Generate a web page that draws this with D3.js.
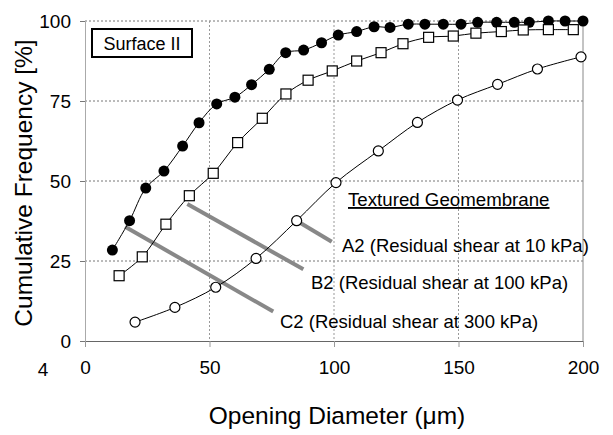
<!DOCTYPE html>
<html>
<head>
<meta charset="utf-8">
<script src="https://cdn.jsdelivr.net/npm/d3@7"></script>
<style>
  html, body { margin: 0; padding: 0; background: #fff; }
  svg { display: block; font-family: "Liberation Sans", Arial, sans-serif; }
</style>
</head>
<body>
<svg id="chart" width="613" height="435"></svg>
<script>
// Opening diameter (µm) and cumulative frequency (%) for each residual-shear test
const a2X = [11.0, 17.9, 24.4, 31.7, 39.2, 45.8, 52.9, 60.2, 66.9, 74.0, 80.6, 87.8, 95.0, 101.7, 109.1, 116.1, 122.5, 129.8, 136.5, 143.9, 151.0, 157.7, 165.3, 172.4, 178.4, 186.1, 192.8, 200];
const a2Y = [28.4, 37.6, 47.8, 53.1, 60.9, 68.2, 74.1, 76.2, 80.1, 84.9, 90.1, 90.9, 93.2, 95.6, 96.7, 98.2, 98.0, 99.0, 99.0, 99.0, 99.0, 99.6, 99.6, 99.6, 99.6, 100, 100, 100];

const b2X = [13.7, 23.0, 32.5, 41.9, 51.5, 61.3, 71.2, 80.7, 89.6, 99.3, 109.1, 118.9, 127.7, 138.0, 147.9, 157.0, 167.2, 176.0, 186.1, 196.1];
const b2Y = [20.4, 26.3, 36.5, 45.4, 52.4, 62.0, 69.6, 77.2, 81.5, 84.4, 87.5, 90.1, 92.9, 94.9, 95.3, 96.2, 96.7, 97.2, 97.3, 97.3];

const c2X = [20.1, 36.1, 52.5, 68.7, 85.0, 100.8, 117.8, 133.5, 149.6, 165.7, 181.7, 199.2];
const c2Y = [5.9, 10.5, 16.8, 25.8, 37.6, 49.5, 59.4, 68.3, 75.3, 80.2, 85.0, 88.8];

// Axis ticks
const xTicks = [0, 50, 100, 150, 200];
const yTicks = [0, 25, 50, 75, 100];

// Leader lines from each curve to its label: [x1, y1, x2, y2] in data units
const leaderC2 = [16.1, 35.7, 75.6, 9.2];
const leaderB2 = [41.1, 42.8, 87.7, 22.4];
const leaderA2 = [85.0, 37.6, 99.1, 31.0];

const labelA2 = "A2 (Residual shear at 10 kPa)";
const labelB2 = "B2 (Residual shear at 100 kPa)";
const labelC2 = "C2 (Residual shear at 300 kPa)";

const svg = d3.select("#chart");
const x = d3.scaleLinear().domain([0, 200]).range([85, 583]);
const y = d3.scaleLinear().domain([0, 100]).range([341, 21]);

// Dotted gridlines
svg.append("g").selectAll("line").data(yTicks.filter(d => d > 0)).join("line")
  .attr("x1", x(0)).attr("x2", x(200))
  .attr("y1", d => y(d)).attr("y2", d => y(d))
  .attr("stroke", "#777").attr("stroke-width", 1).attr("stroke-dasharray", "2,2");
svg.append("g").selectAll("line").data(xTicks.filter(d => d > 0 && d < 200)).join("line")
  .attr("x1", d => x(d)).attr("x2", d => x(d))
  .attr("y1", y(100)).attr("y2", y(0))
  .attr("stroke", "#999").attr("stroke-width", 1).attr("stroke-dasharray", "2,2");
// Right frame
svg.append("line")
  .attr("x1", x(200)).attr("x2", x(200)).attr("y1", y(100)).attr("y2", y(0))
  .attr("stroke", "#888").attr("stroke-width", 1);

// Axes
const xAxis = svg.append("g").attr("transform", `translate(0,${y(0)})`)
  .call(d3.axisBottom(x).tickValues(xTicks).tickSize(6).tickPadding(14).tickSizeOuter(0));
const yAxis = svg.append("g").attr("transform", `translate(${x(0)},0)`)
  .call(d3.axisLeft(y).tickValues(yTicks).tickSize(5).tickPadding(9).tickSizeOuter(0));
xAxis.select(".domain").attr("stroke", "#666");
yAxis.select(".domain").attr("stroke", "#aaa");
xAxis.selectAll(".tick line").attr("stroke", "#999");
yAxis.selectAll(".tick line").attr("stroke", "#777");
[xAxis, yAxis].forEach(g => g.selectAll("text")
  .attr("font-size", 19).attr("fill", "#000")
  .attr("font-family", "'Liberation Sans', Arial, sans-serif"));

// Stray label at the left of the tick row
svg.append("text").attr("x", 43).attr("y", 376).attr("text-anchor", "middle")
  .attr("font-size", 19).text("4");

// Axis titles
svg.append("text").attr("x", 337).attr("y", 424).attr("text-anchor", "middle")
  .attr("font-size", 24.5).text("Opening Diameter (\u03bcm)");
svg.append("text").attr("transform", "translate(32,183) rotate(-90)")
  .attr("text-anchor", "middle").attr("font-size", 24.5).text("Cumulative Frequency [%]");

// Leader lines
svg.append("g").selectAll("line").data([leaderC2, leaderB2, leaderA2]).join("line")
  .attr("x1", d => x(d[0])).attr("y1", d => y(d[1]))
  .attr("x2", d => x(d[2])).attr("y2", d => y(d[3]))
  .attr("stroke", "#888").attr("stroke-width", 4);

// Curves
const line = d3.line().x(d => x(d[0])).y(d => y(d[1])).curve(d3.curveCatmullRom.alpha(0.5));
const series = [
  { xs: a2X, ys: a2Y, marker: "dot" },
  { xs: b2X, ys: b2Y, marker: "square" },
  { xs: c2X, ys: c2Y, marker: "ring" }
];
series.forEach(s => {
  const pts = s.xs.map((v, i) => [v, s.ys[i]]);
  svg.append("path").datum(pts).attr("d", line)
    .attr("fill", "none").attr("stroke", "#000").attr("stroke-width", 1);
  const g = svg.append("g");
  if (s.marker === "dot") {
    g.selectAll("circle").data(pts).join("circle")
      .attr("cx", d => x(d[0])).attr("cy", d => y(d[1])).attr("r", 5.5).attr("fill", "#000");
  } else if (s.marker === "square") {
    g.selectAll("rect").data(pts).join("rect")
      .attr("x", d => x(d[0]) - 5).attr("y", d => y(d[1]) - 5)
      .attr("width", 10).attr("height", 10)
      .attr("fill", "#fff").attr("stroke", "#000").attr("stroke-width", 1.2);
  } else {
    g.selectAll("circle").data(pts).join("circle")
      .attr("cx", d => x(d[0])).attr("cy", d => y(d[1])).attr("r", 5)
      .attr("fill", "#fff").attr("stroke", "#000").attr("stroke-width", 1.2);
  }
});

// Annotation text
svg.append("text").attr("x", 348).attr("y", 206).attr("font-size", 18.7)
  .attr("text-decoration", "underline").text("Textured Geomembrane");
svg.append("text").attr("x", 342).attr("y", 252).attr("font-size", 18.5).text(labelA2);
svg.append("text").attr("x", 311).attr("y", 289).attr("font-size", 18.5).text(labelB2);
svg.append("text").attr("x", 280).attr("y", 328).attr("font-size", 18.5).text(labelC2);

// Surface label box
svg.append("rect").attr("x", 92).attr("y", 29).attr("width", 100).attr("height", 28)
  .attr("fill", "#fff").attr("stroke", "#000").attr("stroke-width", 2);
svg.append("text").attr("x", 142).attr("y", 50).attr("text-anchor", "middle")
  .attr("font-size", 18).text("Surface II");
</script>
</body>
</html>
